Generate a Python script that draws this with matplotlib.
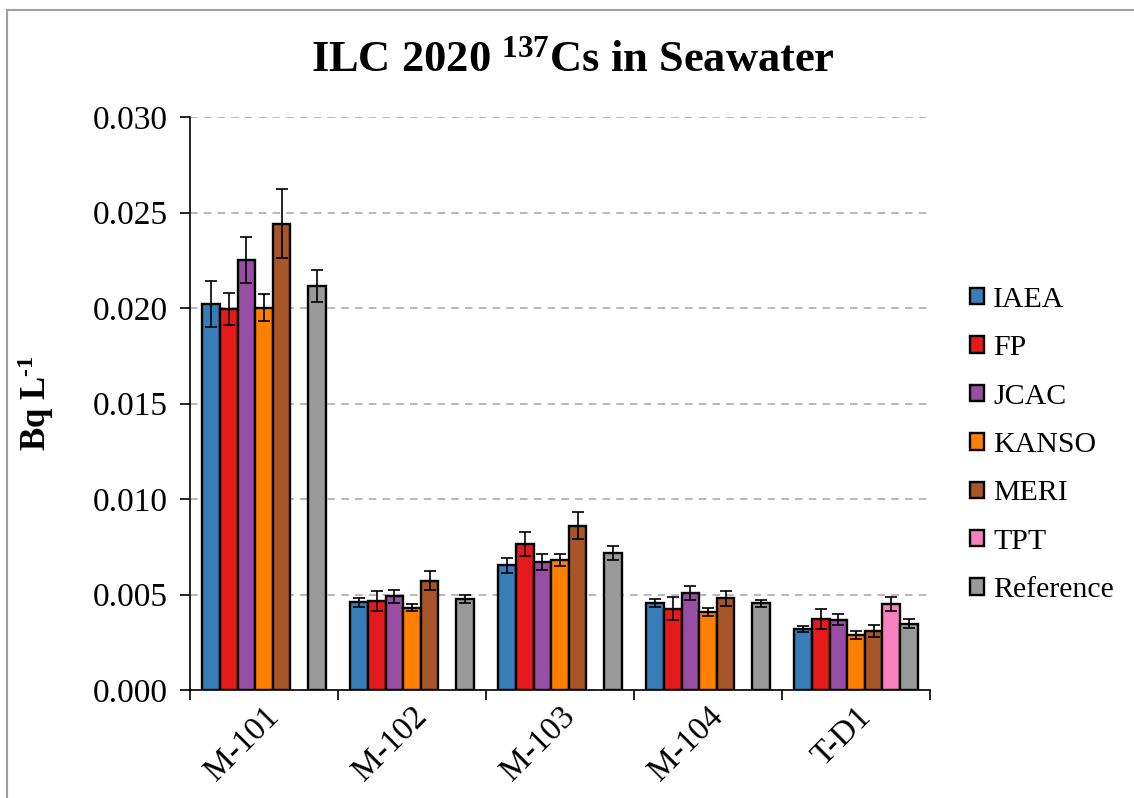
import numpy as np
import matplotlib
matplotlib.use("Agg")
import matplotlib.pyplot as plt
from matplotlib.patches import Rectangle

plt.rcParams['font.family'] = ['Liberation Serif', 'DejaVu Serif']
plt.rcParams['mathtext.fontset'] = 'custom'
plt.rcParams['mathtext.rm'] = 'Liberation Serif'
plt.rcParams['mathtext.bf'] = 'Liberation Serif:bold'
plt.rcParams['mathtext.it'] = 'Liberation Serif:italic'

samples = ["M-101", "M-102", "M-103", "M-104", "T-D1"]
labs = ["IAEA", "FP", "JCAC", "KANSO", "MERI", "TPT", "Reference"]
colors = ["#377eb8", "#e41a1c", "#984ea3", "#ff7f00", "#a65628", "#f781bf", "#999999"]

nan = np.nan
IAEA = [0.0202, 0.00459, 0.00652, 0.00457, 0.00321]
FP = [0.01996, 0.00466, 0.00764, 0.00426, 0.00373]
JCAC = [0.02251, 0.00490, 0.00671, 0.00506, 0.00368]
KANSO = [0.02002, 0.00431, 0.00680, 0.00408, 0.00288]
MERI = [0.02441, 0.00571, 0.00860, 0.00480, 0.00310]
TPT = [nan, nan, nan, nan, 0.00452]
Reference = [0.02115, 0.00476, 0.00716, 0.00454, 0.00347]

IAEA_err = [0.0012, 0.00023, 0.0004, 0.0002, 0.00016]
FP_err = [0.00085, 0.00054, 0.00061, 0.0006, 0.00052]
JCAC_err = [0.0012, 0.00033, 0.00043, 0.00036, 0.0003]
KANSO_err = [0.0007, 0.0002, 0.00032, 0.00022, 0.0002]
MERI_err = [0.0018, 0.0005, 0.0007, 0.0004, 0.00031]
TPT_err = [nan, nan, nan, nan, 0.00037]
Reference_err = [0.00083, 0.00022, 0.00037, 0.00017, 0.00024]

values = [IAEA, FP, JCAC, KANSO, MERI, TPT, Reference]
errors = [IAEA_err, FP_err, JCAC_err, KANSO_err, MERI_err, TPT_err, Reference_err]

W, H = 1134, 798
fig = plt.figure(figsize=(W / 100, H / 100), dpi=100)
ax = fig.add_axes([190 / W, 1 - 690 / H, (930 - 190) / W, (690 - 117) / H])

x = np.arange(len(samples))
bw = 0.119
for j, (lab, vals, errs, c) in enumerate(zip(labs, values, errors, colors)):
    pos = x + (j - 3) * bw
    ax.bar(pos, vals, width=bw, color=c, edgecolor='black', linewidth=1.7,
           label=lab, zorder=3)
    ax.errorbar(pos, vals, yerr=errs, fmt='none', ecolor='black',
                elinewidth=1.2, capsize=4.5, capthick=1.2, zorder=4)

ax.set_xlim(-0.5, len(samples) - 0.5)
ax.set_ylim(0, 0.030)
ticks = np.arange(0, 0.0301, 0.005)
ax.set_yticks(ticks)
ax.set_yticklabels([f"{v:.3f}" for v in ticks], fontsize=24)
ax.yaxis.grid(True, color='#a6a6a6', linestyle=(0, (5, 4)), linewidth=1.1, zorder=0)
ax.set_axisbelow(True)
ax.tick_params(axis='y', direction='out', length=7, width=1.2, pad=9)

ax.set_xticks(x)
ax.set_xticklabels(samples, fontsize=24, rotation=45, ha='right',
                   rotation_mode='anchor')
ax.tick_params(axis='x', length=0, pad=8)
ax.set_xticks(np.arange(-0.5, len(samples)), minor=True)
ax.tick_params(axis='x', which='minor', direction='out', length=7, width=1.2)

for s in ['top', 'right']:
    ax.spines[s].set_visible(False)
ax.spines['left'].set_linewidth(1.2)
ax.spines['bottom'].set_linewidth(1.2)

ax.set_ylabel('Bq L$^{\\mathbf{\u20101}}$', fontsize=25, fontweight='bold')
ax.yaxis.set_label_coords(-0.181, 0.5)

fig.text(573 / W, 1 - 60 / H, r'ILC 2020 $^{\mathbf{137}}$Cs in Seawater',
         fontsize=32, fontweight='bold', ha='center', va='center')

handles, _ = ax.get_legend_handles_labels()
leg = fig.legend(handles, labs, loc='center left',
                 bbox_to_anchor=(970 / W, 1 - 445 / H), frameon=False,
                 fontsize=21.5, handlelength=0.47, handleheight=0.47,
                 handletextpad=0.3, labelspacing=0.75, borderaxespad=0,
                 borderpad=0)

fig.patches.append(Rectangle((7 / W, -0.1), 1.2, 1 - 10 / H + 0.1,
                             transform=fig.transFigure, fill=False,
                             edgecolor='#a0a0a0', linewidth=1.5))

fig.savefig('out.png', dpi=100)
